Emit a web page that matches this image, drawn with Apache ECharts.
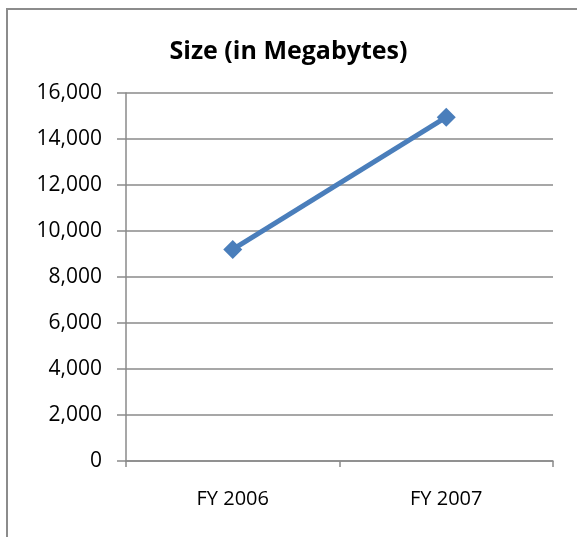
<!DOCTYPE html>
<html>
<head>
<meta charset="utf-8">
<script src="https://cdn.jsdelivr.net/npm/echarts@6/dist/echarts.min.js"></script>
<style>
  html, body { margin: 0; padding: 0; background: #fff; overflow: hidden; }
  #frame {
    position: absolute; left: 6px; top: 8px; width: 600px; height: 560px;
    border: 2px solid #8c8c8c; box-sizing: border-box;
  }
  #chart { position: absolute; left: 0; top: 0; width: 577px; height: 537px; }
</style>
</head>
<body>
<div id="frame"></div>
<div id="chart"></div>
<script>
  const categories = ['FY 2006', 'FY 2007']
  const sizeValues = [9200, 14950]
  const yTicks = { min: 0, max: 16000, interval: 2000 }

  const FONT = '"Open Sans", "Noto Sans", sans-serif'
  const GRID_COLOR = '#8a8a8a'

  const chart = echarts.init(document.getElementById('chart'))

  chart.setOption({
    animation: false,
    title: {
      text: 'Size (in Megabytes)',
      left: 'center',
      top: 34,
      textStyle: {
        fontFamily: FONT,
        fontSize: 25,
        fontWeight: 'bold',
        color: '#000'
      }
    },
    grid: {
      left: 126,
      right: 24,
      top: 93,
      bottom: 76,
      containLabel: false
    },
    xAxis: {
      type: 'category',
      data: categories,
      boundaryGap: true,
      axisLine: { lineStyle: { color: GRID_COLOR, width: 1.5 } },
      axisTick: { show: true, length: 6, inside: false, lineStyle: { color: GRID_COLOR, width: 1.5 } },
      axisLabel: {
        margin: 28,
        fontFamily: FONT,
        fontSize: 20,
        color: '#000'
      }
    },
    yAxis: {
      type: 'value',
      min: yTicks.min,
      max: yTicks.max,
      interval: yTicks.interval,
      axisLine: { show: true, lineStyle: { color: GRID_COLOR, width: 1.5 } },
      axisTick: { show: true, length: 9, lineStyle: { color: GRID_COLOR, width: 1.5 } },
      splitLine: { lineStyle: { color: GRID_COLOR, width: 1.5 } },
      axisLabel: {
        margin: 24,
        fontFamily: FONT,
        fontSize: 21,
        color: '#000',
        formatter: (v) => v.toLocaleString('en-US')
      }
    },
    series: [
      {
        name: 'Size',
        type: 'line',
        data: sizeValues,
        symbol: 'diamond',
        symbolSize: 19,
        lineStyle: { color: '#4a7ebb', width: 5 },
        itemStyle: { color: '#4a7ebb' }
      }
    ]
  })
</script>
</body>
</html>
